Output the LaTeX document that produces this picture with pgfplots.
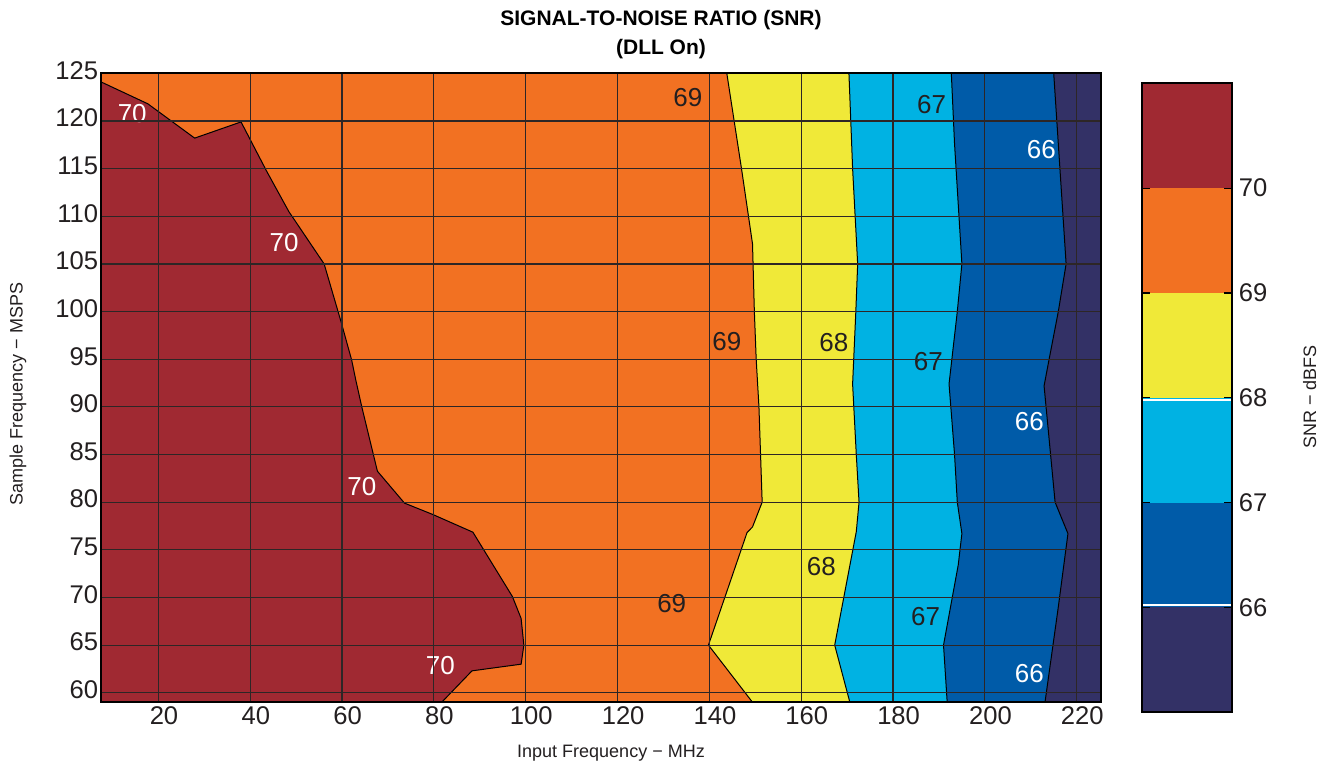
\documentclass[border=0pt]{standalone}
\usepackage{fontspec}
\setmainfont{Liberation Sans}
\usepackage{pgfplots}
\pgfplotsset{compat=1.18}
\definecolor{cRed}{RGB}{160,41,50}
\definecolor{cOrange}{RGB}{242,113,34}
\definecolor{cYellow}{RGB}{240,233,56}
\definecolor{cCyan}{RGB}{0,178,227}
\definecolor{cBlue}{RGB}{0,91,168}
\definecolor{cNavy}{RGB}{51,49,102}
\definecolor{gridc}{RGB}{45,38,38}
\definecolor{txt}{RGB}{35,31,32}
\begin{document}
\begin{tikzpicture}
\useasboundingbox (0,0) rectangle (664pt,383pt);
\begin{axis}[
  at={(50.5pt,31.85pt)}, anchor=south west,
  scale only axis, width=500pt, height=314.5pt,
  xmin=7.5, xmax=225.3, ymin=59, ymax=125,
  xtick={20,40,...,220}, ytick={60,65,...,125},
  grid=major, major grid style={gridc, line width=0.6pt},
  axis on top, axis line style={black, line width=1pt},
  major tick length=0pt,
  /pgf/number format/assume math mode=true,
  ticklabel style={font=\fontsize{12.8}{14}\selectfont, text=txt},
  xticklabel style={xshift=2.8pt, yshift=1.4pt},
  yticklabel style={xshift=2.1pt, yshift=1.5pt},
  xlabel={Input Frequency − MHz}, ylabel={Sample Frequency − MSPS},
  label style={font=\fontsize{9}{11}\selectfont, text=txt},
  xlabel style={at={(rel axis cs:0.51,0)}, anchor=center, yshift=-25.4pt},
  ylabel style={at={(rel axis cs:-0.083,0.49)}, anchor=center},
  title={SIGNAL-TO-NOISE RATIO (SNR)\\(DLL On)},
  title style={at={(rel axis cs:0.56,1)}, anchor=center, yshift=13.3pt, align=center,
    font=\bfseries\fontsize{10.5}{14.5}\selectfont},
]
% background (65-66)
\addplot[fill=cNavy, draw=none] coordinates {(7.5,59)(7.5,125)(225.3,125)(225.3,59)};
% left of 66 contour
\addplot[fill=cBlue, draw=none] coordinates {(7.5,59)(7.5,125)(215.0,125)(216.0,117.6)(217.7,105)(216.0,100)(214.0,95)(212.9,92.2)(215.3,80)(218.1,76.7)(216.0,69)(213.1,59)};
% left of 67 contour
\addplot[fill=cCyan, draw=none] coordinates {(7.5,59)(7.5,125)(192.7,125)(193.4,117.6)(195.0,105)(194.0,100)(192.2,92.4)(193.4,85)(194.0,80)(195.0,76.7)(194.2,73.4)(191.0,65)(191.8,59)};
% left of 68 contour
\addplot[fill=cYellow, draw=none] coordinates {(7.5,59)(7.5,125)(170.4,125)(171.2,115)(172.3,105)(171.9,100)(171.2,92.4)(172.0,85)(172.6,80)(172.0,76.9)(167.3,65)(170.6,59)};
% left of 69 contour
\addplot[fill=cOrange, draw=none] coordinates {(7.5,59)(7.5,125)(143.8,125)(147.0,115)(149.4,107.1)(149.8,100)(150.2,95)(150.8,90)(151.5,80)(149.4,77.4)(148.2,76.8)(139.8,65)(149.4,59)};
% above 70
\addplot[fill=cRed, draw=none] coordinates {(7.5,59)(7.5,124.1)(17.7,121.8)(27.9,118.2)(38.0,119.9)(43.5,114.8)(48.4,110.5)(56.1,105.0)(59.8,98.9)(62.1,94.9)(63.0,92.8)(64.3,90)(67.7,83.25)(73.6,79.9)(79.8,78.7)(88.5,76.85)(97.1,70.1)(99.0,67.8)(99.6,65.0)(99.0,63.0)(88.3,62.3)(81.7,59)};
% contour lines
\addplot[black, line width=0.5pt] coordinates {(215.0,125)(216.0,117.6)(217.7,105)(216.0,100)(214.0,95)(212.9,92.2)(215.3,80)(218.1,76.7)(216.0,69)(213.1,59)};
\addplot[black, line width=0.5pt] coordinates {(192.7,125)(193.4,117.6)(195.0,105)(194.0,100)(192.2,92.4)(193.4,85)(194.0,80)(195.0,76.7)(194.2,73.4)(191.0,65)(191.8,59)};
\addplot[black, line width=0.5pt] coordinates {(170.4,125)(171.2,115)(172.3,105)(171.9,100)(171.2,92.4)(172.0,85)(172.6,80)(172.0,76.9)(167.3,65)(170.6,59)};
\addplot[black, line width=0.5pt] coordinates {(143.8,125)(147.0,115)(149.4,107.1)(149.8,100)(150.2,95)(150.8,90)(151.5,80)(149.4,77.4)(148.2,76.8)(139.8,65)(149.4,59)};
\addplot[black, line width=0.5pt] coordinates {(7.5,124.1)(17.7,121.8)(27.9,118.2)(38.0,119.9)(43.5,114.8)(48.4,110.5)(56.1,105.0)(59.8,98.9)(62.1,94.9)(63.0,92.8)(64.3,90)(67.7,83.25)(73.6,79.9)(79.8,78.7)(88.5,76.85)(97.1,70.1)(99.0,67.8)(99.6,65.0)(99.0,63.0)(88.3,62.3)(81.7,59)};
% contour labels
\begin{scope}[every node/.style={font=\fontsize{13}{14}\selectfont, inner sep=0pt}]
\node[white] at (axis cs:14.3,120.8) {70};
\node[white] at (axis cs:47.4,107.2) {70};
\node[white] at (axis cs:64.3,81.6) {70};
\node[white] at (axis cs:81.4,62.9) {70};
\node[txt] at (axis cs:135.3,122.5) {69};
\node[txt] at (axis cs:143.8,96.9) {69};
\node[txt] at (axis cs:131.8,69.4) {69};
\node[txt] at (axis cs:167.1,96.7) {68};
\node[txt] at (axis cs:164.4,73.2) {68};
\node[txt] at (axis cs:188.4,121.7) {67};
\node[txt] at (axis cs:187.7,94.8) {67};
\node[txt] at (axis cs:187.1,68.0) {67};
\node[white] at (axis cs:212.3,117.0) {66};
\node[white] at (axis cs:209.7,88.5) {66};
\node[white] at (axis cs:209.7,62.0) {66};
\end{scope}
\end{axis}
% colour bar
\begin{axis}[
  at={(571.15pt,26.85pt)}, anchor=south west,
  scale only axis, width=44.7pt, height=314.5pt,
  xmin=0, xmax=1, ymin=65, ymax=71,
  xtick=\empty, ytick={66,67,...,70},
  yticklabel pos=right, ytick pos=both,
  tick align=inside, major tick length=4pt,
  tick style={black, line width=0.6pt},
  axis on top, axis line style={black, line width=1pt},
  /pgf/number format/assume math mode=true,
  ticklabel style={font=\fontsize{12.8}{14}\selectfont, text=txt},
  ylabel={SNR − dBFS},
  ylabel style={at={(rel axis cs:1.8725,0.501)}, anchor=center,
    font=\fontsize{9}{11}\selectfont, text=txt},
]
\addplot[fill=cNavy, draw=none] coordinates {(0,65)(0,66)(1,66)(1,65)};
\addplot[fill=cBlue, draw=none] coordinates {(0,66)(0,67)(1,67)(1,66)};
\addplot[fill=cCyan, draw=none] coordinates {(0,67)(0,68)(1,68)(1,67)};
\addplot[fill=cYellow, draw=none] coordinates {(0,68)(0,69)(1,69)(1,68)};
\addplot[fill=cOrange, draw=none] coordinates {(0,69)(0,70)(1,70)(1,69)};
\addplot[fill=cRed, draw=none] coordinates {(0,70)(0,71)(1,71)(1,70)};
\addplot[white, line width=1pt] coordinates {(0,66.02)(1,66.02)};
\addplot[white, line width=1pt] coordinates {(0,67.98)(1,67.98)};
\end{axis}
\end{tikzpicture}
\end{document}
